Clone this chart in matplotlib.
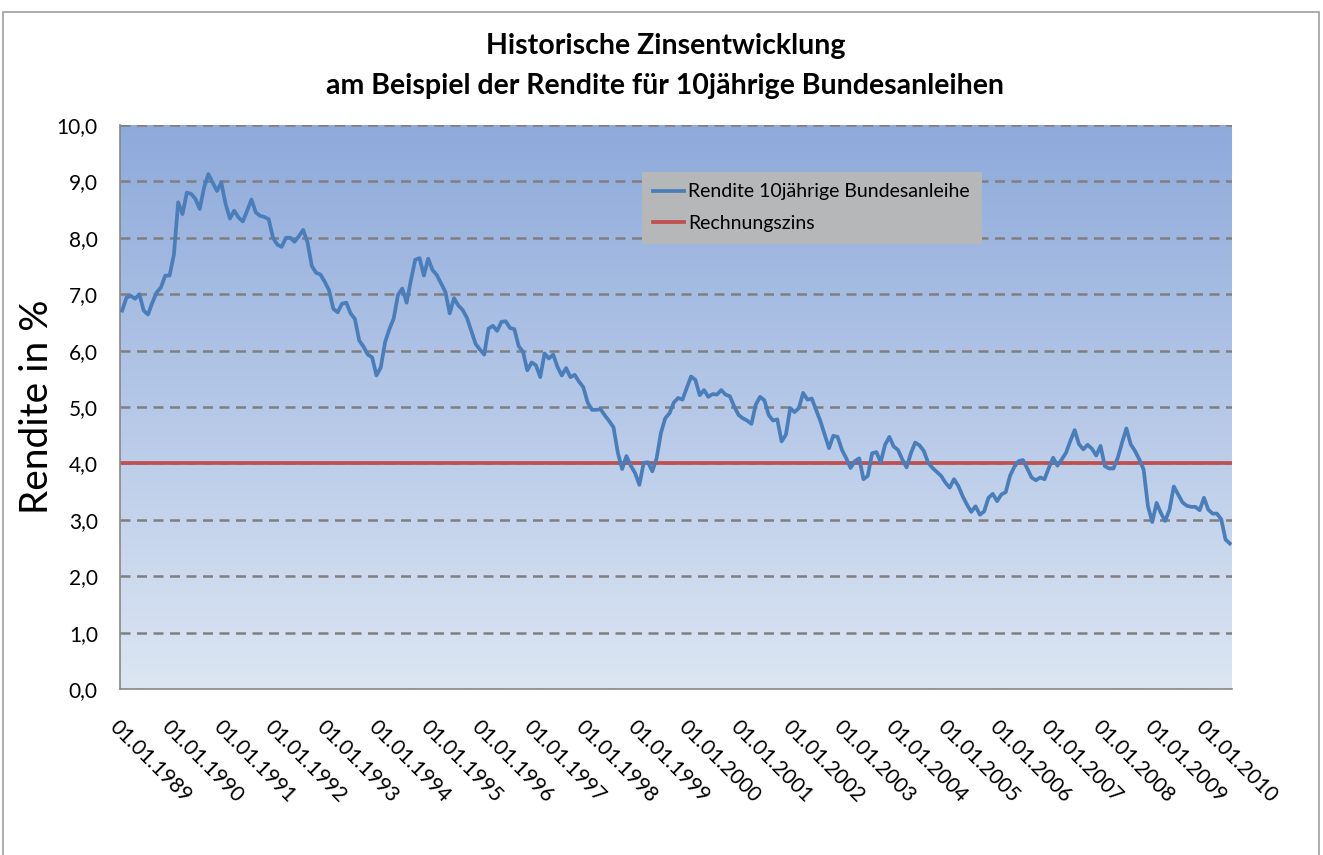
import numpy as np
import matplotlib.pyplot as plt
from matplotlib.colors import LinearSegmentedColormap
from matplotlib.patches import Rectangle

# Monthly yield of 10-year German government bonds, Jan 1989 .. Jun 2010 (%)
rendite = [
    6.71, 6.94, 6.97, 6.92, 7.00, 6.71, 6.64, 6.85, 7.03, 7.12, 7.33, 7.33,
    7.70, 8.63, 8.42, 8.80, 8.78, 8.69, 8.51, 8.89, 9.13, 8.98, 8.83, 8.98,
    8.60, 8.34, 8.48, 8.36, 8.29, 8.48, 8.68, 8.45, 8.39, 8.37, 8.33, 8.00,
    7.88, 7.84, 8.00, 8.00, 7.93, 8.03, 8.14, 7.92, 7.50, 7.38, 7.35, 7.22,
    7.07, 6.74, 6.68, 6.83, 6.85, 6.66, 6.56, 6.18, 6.07, 5.93, 5.88, 5.56,
    5.70, 6.15, 6.38, 6.57, 6.99, 7.10, 6.85, 7.25, 7.61, 7.64, 7.33, 7.63,
    7.43, 7.34, 7.19, 7.04, 6.66, 6.93, 6.80, 6.72, 6.58, 6.35, 6.12, 6.02,
    5.93, 6.39, 6.44, 6.35, 6.51, 6.52, 6.40, 6.38, 6.08, 5.98, 5.65, 5.79,
    5.74, 5.53, 5.95, 5.86, 5.93, 5.71, 5.56, 5.69, 5.53, 5.57, 5.45, 5.35,
    5.08, 4.95, 4.95, 4.96, 4.85, 4.75, 4.64, 4.19, 3.90, 4.13, 3.96, 3.83,
    3.62, 4.01, 4.02, 3.86, 4.09, 4.54, 4.80, 4.89, 5.08, 5.16, 5.13, 5.34,
    5.54, 5.48, 5.21, 5.30, 5.18, 5.23, 5.22, 5.30, 5.22, 5.19, 5.01, 4.86,
    4.80, 4.76, 4.70, 5.04, 5.18, 5.12, 4.86, 4.76, 4.78, 4.39, 4.51, 4.98,
    4.91, 4.98, 5.25, 5.13, 5.15, 4.95, 4.75, 4.51, 4.27, 4.49, 4.47, 4.24,
    4.09, 3.92, 4.04, 4.09, 3.72, 3.78, 4.18, 4.20, 4.02, 4.33, 4.47, 4.30,
    4.24, 4.07, 3.93, 4.18, 4.37, 4.32, 4.22, 4.01, 3.92, 3.85, 3.78, 3.66,
    3.57, 3.72, 3.60, 3.42, 3.27, 3.14, 3.24, 3.09, 3.15, 3.39, 3.46, 3.33,
    3.45, 3.49, 3.78, 3.94, 4.04, 4.06, 3.91, 3.75, 3.70, 3.75, 3.72, 3.92,
    4.10, 3.96, 4.07, 4.19, 4.40, 4.59, 4.34, 4.25, 4.33, 4.26, 4.14, 4.31,
    3.95, 3.91, 3.91, 4.10, 4.37, 4.62, 4.34, 4.22, 4.07, 3.89, 3.24, 2.96,
    3.30, 3.12, 2.98, 3.18, 3.59, 3.45, 3.31, 3.25, 3.23, 3.23, 3.17, 3.39,
    3.18, 3.11, 3.11, 3.01, 2.65, 2.58,
]
rechnungszins = [4.0] * len(rendite)
jahre = list(range(1989, 2011))
tick_labels = ["01.01.%d" % j for j in jahre]
y_ticks = list(range(0, 11))

plt.rcParams['font.family'] = ['Lato', 'DejaVu Sans']

fig = plt.figure(figsize=(13.23, 8.55), dpi=100)
ax = fig.add_axes([120 / 1323, 1 - 689 / 855, 1112 / 1323, 564 / 855])

n = len(rendite)
x = np.arange(n) + 0.5

# gradient background of the plot area
cmap = LinearSegmentedColormap.from_list('bg', ['#dce6f3', '#8eaadb'])
grad = np.linspace(0, 1, 256).reshape(-1, 1)
ax.imshow(grad, extent=[0, n, 0, 10], origin='lower', aspect='auto',
          cmap=cmap, zorder=0)

for yv in y_ticks[1:]:
    ax.axhline(yv, color='#7f7f7f', lw=1.8, ls=(0, (4, 2.6)), zorder=1)

ax.plot(x, rendite, color='#4a7ebb', lw=2.7, zorder=3,
        label='Rendite 10jährige Bundesanleihe')
ax.plot(x, rechnungszins, color='#c0504d', lw=2.7, zorder=2,
        label='Rechnungszins')

ax.set_xlim(0, n)
ax.set_ylim(0, 10)
ax.set_yticks(y_ticks)
ax.set_yticklabels(["%d,0" % v for v in y_ticks], fontsize=15)
ax.set_xticks([12 * k for k in range(len(jahre))])
ax.set_xticklabels(tick_labels, fontsize=15, rotation=-45,
                   ha='left', va='top', rotation_mode='anchor')
ax.tick_params(axis='both', length=0)
ax.tick_params(axis='x', pad=20)
ax.tick_params(axis='y', pad=16)

for s in ['top', 'right']:
    ax.spines[s].set_visible(False)
for s in ['left', 'bottom']:
    ax.spines[s].set_color('#868686')
    ax.spines[s].set_linewidth(1.2)

ax.set_ylabel('Rendite in %', fontsize=28, labelpad=1)

fig.text(0.503, 1 - 46 / 855, 'Historische Zinsentwicklung',
         ha='center', va='center', fontsize=20.5, fontweight='bold')
fig.text(0.503, 1 - 86 / 855,
         'am Beispiel der Rendite für 10jährige Bundesanleihen',
         ha='center', va='center', fontsize=20.5, fontweight='bold')

leg = ax.legend(loc='upper left', bbox_to_anchor=(512 / 1112, 1 - 37 / 564),
                fontsize=14, frameon=True, fancybox=False, framealpha=1,
                facecolor='#b6b7b9', edgecolor='#b6b7b9', handlelength=1.6,
                handletextpad=0.2, borderpad=0.6, labelspacing=0.75)
leg.get_frame().set_linewidth(0)

# outer chart border
fig.patches.append(Rectangle((3 / 1323, -0.02), 1316 / 1323, 1.02 - 12 / 855,
                             transform=fig.transFigure, fill=False,
                             edgecolor='#a6a6a6', lw=1.3))

fig.savefig('out.png', dpi=100)
